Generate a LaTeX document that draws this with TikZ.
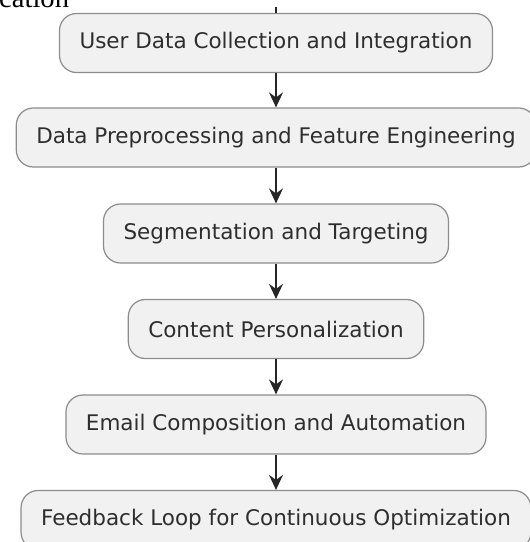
\documentclass[tikz,border=0pt]{standalone}
\usepackage{fontspec}
\setmainfont{DejaVu Sans}
\newfontfamily\capserif{Liberation Serif}
\usetikzlibrary{arrows.meta}
\definecolor{boxfill}{HTML}{F1F1F1}
\definecolor{boxline}{HTML}{8C8C8C}
\definecolor{txt}{HTML}{2E2E2E}
\definecolor{arr}{HTML}{262626}
\tikzset{
  stagebox/.style={draw=boxline, fill=boxfill, line width=1.2pt, rounded corners=17pt,
    minimum height=59pt, inner xsep=20pt, inner ysep=0pt, text=txt,
    font=\fontsize{21.5pt}{24pt}\selectfont},
  flowarrow/.style={draw=arr, line width=1.5pt, -{Stealth[length=15pt,width=14pt,inset=5pt]}}
}
\begin{document}
\begin{tikzpicture}[x=1pt,y=-1pt]
\useasboundingbox (0,0) rectangle (530,542);
\node[anchor=base west, inner sep=0pt, font=\capserif\fontsize{28.6pt}{30pt}\selectfont] (cap) at (-1,7) {cation};
\node[stagebox] (b1) at (276,43) {User Data Collection and Integration};
\node[stagebox] (b2) at (276,137.5) {Data Preprocessing and Feature Engineering};
\node[stagebox] (b3) at (276,233.5) {Segmentation and Targeting};
\node[stagebox] (b4) at (276,329) {Content Personalization};
\node[stagebox] (b5) at (276,424.5) {Email Composition and Automation};
\node[stagebox] (b6) at (276,520) {Feedback Loop for Continuous Optimization};
\coordinate (top) at (276,7);
\draw[draw=arr, line width=1.5pt] (top) -- (b1.north);
\draw[flowarrow] (b1) -- (b2);
\draw[flowarrow] (b2) -- (b3);
\draw[flowarrow] (b3) -- (b4);
\draw[flowarrow] (b4) -- (b5);
\draw[flowarrow] (b5) -- (b6);
\end{tikzpicture}
\end{document}
